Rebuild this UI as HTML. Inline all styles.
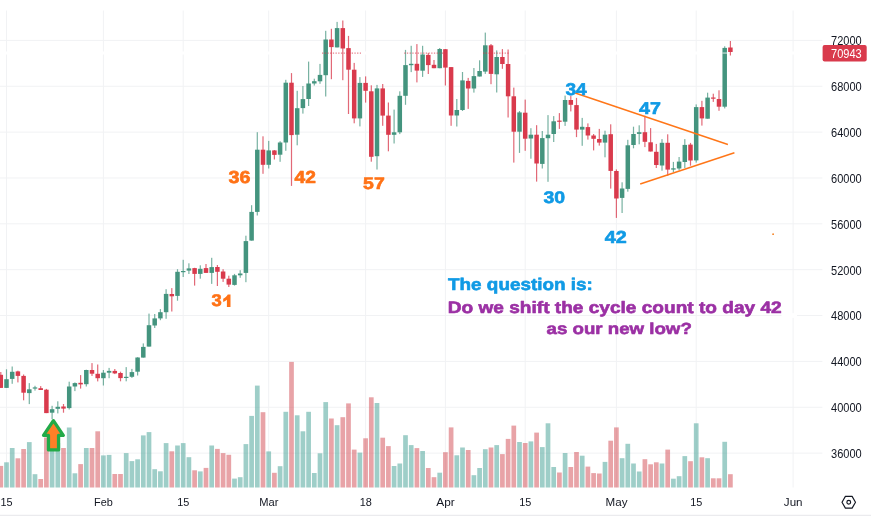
<!DOCTYPE html>
<html><head><meta charset="utf-8"><title>Chart</title>
<style>html,body{margin:0;padding:0;background:#fff;width:871px;height:517px;overflow:hidden;font-family:"Liberation Sans",sans-serif}</style>
</head><body>
<svg width="871" height="517" viewBox="0 0 871 517" style="display:block;position:absolute;left:0;top:0;will-change:transform">
<rect width="871" height="517" fill="#ffffff"/>
<g stroke="#f1f2f4" stroke-width="1"><line x1="0" y1="40.40" x2="822.4" y2="40.40"/><line x1="0" y1="86.26" x2="822.4" y2="86.26"/><line x1="0" y1="132.12" x2="822.4" y2="132.12"/><line x1="0" y1="177.98" x2="822.4" y2="177.98"/><line x1="0" y1="223.84" x2="822.4" y2="223.84"/><line x1="0" y1="269.70" x2="822.4" y2="269.70"/><line x1="0" y1="315.56" x2="822.4" y2="315.56"/><line x1="0" y1="361.42" x2="822.4" y2="361.42"/><line x1="0" y1="407.28" x2="822.4" y2="407.28"/><line x1="0" y1="453.14" x2="822.4" y2="453.14"/><line x1="6.50" y1="10.5" x2="6.50" y2="487.5"/><line x1="103.40" y1="10.5" x2="103.40" y2="487.5"/><line x1="183.20" y1="10.5" x2="183.20" y2="487.5"/><line x1="268.70" y1="10.5" x2="268.70" y2="487.5"/><line x1="365.60" y1="10.5" x2="365.60" y2="487.5"/><line x1="445.40" y1="10.5" x2="445.40" y2="487.5"/><line x1="525.20" y1="10.5" x2="525.20" y2="487.5"/><line x1="616.40" y1="10.5" x2="616.40" y2="487.5"/><line x1="696.20" y1="10.5" x2="696.20" y2="487.5"/><line x1="793.10" y1="10.5" x2="793.10" y2="487.5"/></g>
<line x1="0" y1="53" x2="822.4" y2="53" stroke="#ffffff" stroke-width="3"/>
<line x1="0" y1="515.3" x2="871" y2="515.3" stroke="#e6e7ea" stroke-width="1"/>
<g fill="rgba(62,158,146,0.5)"><rect x="4.15" y="462.3" width="4.7" height="25.2"/><rect x="9.85" y="448.0" width="4.7" height="39.5"/><rect x="26.95" y="442.1" width="4.7" height="45.4"/><rect x="32.65" y="474.2" width="4.7" height="13.3"/><rect x="49.75" y="441.0" width="4.7" height="46.5"/><rect x="55.45" y="443.0" width="4.7" height="44.5"/><rect x="66.85" y="427.5" width="4.7" height="60.0"/><rect x="72.55" y="473.3" width="4.7" height="14.2"/><rect x="83.95" y="448.0" width="4.7" height="39.5"/><rect x="101.05" y="455.4" width="4.7" height="32.1"/><rect x="106.75" y="454.9" width="4.7" height="32.6"/><rect x="123.85" y="453.1" width="4.7" height="34.4"/><rect x="129.55" y="461.1" width="4.7" height="26.4"/><rect x="135.25" y="459.3" width="4.7" height="28.2"/><rect x="140.95" y="435.4" width="4.7" height="52.1"/><rect x="146.65" y="432.1" width="4.7" height="55.4"/><rect x="152.35" y="469.2" width="4.7" height="18.3"/><rect x="158.05" y="471.3" width="4.7" height="16.2"/><rect x="163.75" y="443.1" width="4.7" height="44.4"/><rect x="175.15" y="445.5" width="4.7" height="42.0"/><rect x="180.85" y="443.1" width="4.7" height="44.4"/><rect x="186.55" y="457.2" width="4.7" height="30.3"/><rect x="197.95" y="471.4" width="4.7" height="16.1"/><rect x="209.35" y="445.5" width="4.7" height="42.0"/><rect x="232.15" y="478.6" width="4.7" height="8.9"/><rect x="237.85" y="477.2" width="4.7" height="10.3"/><rect x="243.55" y="444.1" width="4.7" height="43.4"/><rect x="249.25" y="415.9" width="4.7" height="71.6"/><rect x="254.95" y="385.6" width="4.7" height="101.9"/><rect x="266.35" y="451.4" width="4.7" height="36.1"/><rect x="277.75" y="466.2" width="4.7" height="21.3"/><rect x="283.45" y="411.8" width="4.7" height="75.7"/><rect x="294.85" y="415.3" width="4.7" height="72.2"/><rect x="300.55" y="431.3" width="4.7" height="56.2"/><rect x="306.25" y="411.8" width="4.7" height="75.7"/><rect x="311.95" y="473.0" width="4.7" height="14.5"/><rect x="317.65" y="453.3" width="4.7" height="34.2"/><rect x="323.35" y="402.1" width="4.7" height="85.4"/><rect x="334.75" y="425.2" width="4.7" height="62.3"/><rect x="357.55" y="452.6" width="4.7" height="34.9"/><rect x="374.65" y="403.0" width="4.7" height="84.5"/><rect x="391.75" y="466.0" width="4.7" height="21.5"/><rect x="397.45" y="463.5" width="4.7" height="24.0"/><rect x="403.15" y="435.2" width="4.7" height="52.3"/><rect x="408.85" y="445.1" width="4.7" height="42.4"/><rect x="420.25" y="451.0" width="4.7" height="36.5"/><rect x="437.35" y="472.7" width="4.7" height="14.8"/><rect x="454.45" y="455.3" width="4.7" height="32.2"/><rect x="460.15" y="447.5" width="4.7" height="40.0"/><rect x="471.55" y="475.2" width="4.7" height="12.3"/><rect x="477.25" y="468.0" width="4.7" height="19.5"/><rect x="482.95" y="449.2" width="4.7" height="38.3"/><rect x="494.35" y="445.1" width="4.7" height="42.4"/><rect x="517.15" y="442.0" width="4.7" height="45.5"/><rect x="528.55" y="441.4" width="4.7" height="46.1"/><rect x="539.95" y="447.1" width="4.7" height="40.4"/><rect x="545.65" y="423.3" width="4.7" height="64.2"/><rect x="551.35" y="467.0" width="4.7" height="20.5"/><rect x="562.75" y="453.0" width="4.7" height="34.5"/><rect x="579.85" y="455.7" width="4.7" height="31.8"/><rect x="602.65" y="461.9" width="4.7" height="25.6"/><rect x="619.75" y="458.2" width="4.7" height="29.3"/><rect x="625.45" y="443.8" width="4.7" height="43.7"/><rect x="631.15" y="463.5" width="4.7" height="24.0"/><rect x="636.85" y="471.5" width="4.7" height="16.0"/><rect x="659.65" y="463.5" width="4.7" height="24.0"/><rect x="671.05" y="478.7" width="4.7" height="8.8"/><rect x="676.75" y="476.2" width="4.7" height="11.3"/><rect x="682.45" y="456.1" width="4.7" height="31.4"/><rect x="693.85" y="423.3" width="4.7" height="64.2"/><rect x="705.25" y="458.2" width="4.7" height="29.3"/><rect x="722.35" y="441.8" width="4.7" height="45.7"/></g>
<g fill="rgba(209,72,80,0.5)"><rect x="-1.55" y="465.9" width="4.7" height="21.6"/><rect x="15.55" y="458.3" width="4.7" height="29.2"/><rect x="21.25" y="449.0" width="4.7" height="38.5"/><rect x="38.35" y="479.0" width="4.7" height="8.5"/><rect x="44.05" y="437.5" width="4.7" height="50.0"/><rect x="61.15" y="448.0" width="4.7" height="39.5"/><rect x="78.25" y="464.1" width="4.7" height="23.4"/><rect x="89.65" y="448.0" width="4.7" height="39.5"/><rect x="95.35" y="431.3" width="4.7" height="56.2"/><rect x="112.45" y="474.0" width="4.7" height="13.5"/><rect x="118.15" y="474.0" width="4.7" height="13.5"/><rect x="169.45" y="451.3" width="4.7" height="36.2"/><rect x="192.25" y="470.3" width="4.7" height="17.2"/><rect x="203.65" y="467.9" width="4.7" height="19.6"/><rect x="215.05" y="448.9" width="4.7" height="38.6"/><rect x="220.75" y="453.1" width="4.7" height="34.4"/><rect x="226.45" y="454.8" width="4.7" height="32.7"/><rect x="260.65" y="412.2" width="4.7" height="75.3"/><rect x="272.05" y="472.8" width="4.7" height="14.7"/><rect x="289.15" y="361.9" width="4.7" height="125.6"/><rect x="329.05" y="418.5" width="4.7" height="69.0"/><rect x="340.45" y="417.2" width="4.7" height="70.3"/><rect x="346.15" y="403.4" width="4.7" height="84.1"/><rect x="351.85" y="449.6" width="4.7" height="37.9"/><rect x="363.25" y="438.3" width="4.7" height="49.2"/><rect x="368.95" y="397.3" width="4.7" height="90.2"/><rect x="380.35" y="437.7" width="4.7" height="49.8"/><rect x="386.05" y="446.1" width="4.7" height="41.4"/><rect x="414.55" y="448.1" width="4.7" height="39.4"/><rect x="425.95" y="468.0" width="4.7" height="19.5"/><rect x="431.65" y="477.2" width="4.7" height="10.3"/><rect x="443.05" y="452.2" width="4.7" height="35.3"/><rect x="448.75" y="427.4" width="4.7" height="60.1"/><rect x="465.85" y="450.0" width="4.7" height="37.5"/><rect x="488.65" y="447.5" width="4.7" height="40.0"/><rect x="500.05" y="454.1" width="4.7" height="33.4"/><rect x="505.75" y="438.9" width="4.7" height="48.6"/><rect x="511.45" y="425.6" width="4.7" height="61.9"/><rect x="522.85" y="443.0" width="4.7" height="44.5"/><rect x="534.25" y="432.6" width="4.7" height="54.9"/><rect x="557.05" y="472.5" width="4.7" height="15.0"/><rect x="568.45" y="467.0" width="4.7" height="20.5"/><rect x="574.15" y="452.0" width="4.7" height="35.5"/><rect x="585.55" y="466.6" width="4.7" height="20.9"/><rect x="591.25" y="473.1" width="4.7" height="14.4"/><rect x="596.95" y="473.5" width="4.7" height="14.0"/><rect x="608.35" y="440.7" width="4.7" height="46.8"/><rect x="614.05" y="427.4" width="4.7" height="60.1"/><rect x="642.55" y="459.2" width="4.7" height="28.3"/><rect x="648.25" y="464.3" width="4.7" height="23.2"/><rect x="653.95" y="462.3" width="4.7" height="25.2"/><rect x="665.35" y="449.6" width="4.7" height="37.9"/><rect x="688.15" y="461.2" width="4.7" height="26.3"/><rect x="699.55" y="457.3" width="4.7" height="30.2"/><rect x="710.95" y="478.3" width="4.7" height="9.2"/><rect x="716.65" y="478.3" width="4.7" height="9.2"/><rect x="728.05" y="474.2" width="4.7" height="13.3"/></g>
<g fill="#44947e"><rect x="5.90" y="369.3" width="1.2" height="18.6" opacity="0.72"/><rect x="4.25" y="379.2" width="4.5" height="8.7"/><rect x="11.60" y="366.5" width="1.2" height="17.3" opacity="0.72"/><rect x="9.95" y="371.8" width="4.5" height="7.1"/><rect x="28.70" y="383.1" width="1.2" height="21.0" opacity="0.72"/><rect x="27.05" y="389.3" width="4.5" height="3.8"/><rect x="34.40" y="385.8" width="1.2" height="4.8" opacity="0.72"/><rect x="32.75" y="387.4" width="4.5" height="1.2"/><rect x="51.50" y="405.8" width="1.2" height="13.4" opacity="0.72"/><rect x="49.85" y="409.2" width="4.5" height="3.5"/><rect x="57.20" y="401.3" width="1.2" height="12.1" opacity="0.72"/><rect x="55.55" y="406.8" width="4.5" height="2.0"/><rect x="68.60" y="381.7" width="1.2" height="27.8" opacity="0.72"/><rect x="66.95" y="386.5" width="4.5" height="21.6"/><rect x="74.30" y="382.4" width="1.2" height="8.7" opacity="0.72"/><rect x="72.65" y="383.1" width="4.5" height="3.4"/><rect x="85.70" y="369.7" width="1.2" height="16.8" opacity="0.72"/><rect x="84.05" y="370.0" width="4.5" height="14.2"/><rect x="102.80" y="370.0" width="1.2" height="15.5" opacity="0.72"/><rect x="101.15" y="372.7" width="4.5" height="5.5"/><rect x="108.50" y="367.9" width="1.2" height="10.3" opacity="0.72"/><rect x="106.85" y="370.9" width="4.5" height="1.8"/><rect x="125.60" y="367.1" width="1.2" height="14.2" opacity="0.72"/><rect x="123.95" y="376.8" width="4.5" height="1.2"/><rect x="131.30" y="368.9" width="1.2" height="9.0" opacity="0.72"/><rect x="129.65" y="372.1" width="4.5" height="4.7"/><rect x="137.00" y="357.2" width="1.2" height="18.3" opacity="0.72"/><rect x="135.35" y="357.5" width="4.5" height="14.2"/><rect x="142.70" y="343.4" width="1.2" height="14.2" opacity="0.72"/><rect x="141.05" y="346.9" width="4.5" height="10.7"/><rect x="148.40" y="313.6" width="1.2" height="33.0" opacity="0.72"/><rect x="146.75" y="325.2" width="4.5" height="21.4"/><rect x="154.10" y="314.0" width="1.2" height="14.0" opacity="0.72"/><rect x="152.45" y="318.4" width="4.5" height="7.1"/><rect x="159.80" y="309.1" width="1.2" height="11.1" opacity="0.72"/><rect x="158.15" y="312.2" width="4.5" height="6.2"/><rect x="165.50" y="289.2" width="1.2" height="29.6" opacity="0.72"/><rect x="163.85" y="293.9" width="4.5" height="18.3"/><rect x="176.90" y="269.2" width="1.2" height="31.5" opacity="0.72"/><rect x="175.25" y="271.8" width="4.5" height="24.1"/><rect x="182.60" y="259.8" width="1.2" height="17.2" opacity="0.72"/><rect x="180.95" y="271.0" width="4.5" height="1.2"/><rect x="188.30" y="263.3" width="1.2" height="10.7" opacity="0.72"/><rect x="186.65" y="268.4" width="4.5" height="2.2"/><rect x="199.70" y="265.3" width="1.2" height="13.4" opacity="0.72"/><rect x="198.05" y="268.8" width="4.5" height="5.1"/><rect x="211.10" y="257.8" width="1.2" height="26.1" opacity="0.72"/><rect x="209.45" y="267.1" width="4.5" height="5.8"/><rect x="233.90" y="273.9" width="1.2" height="11.7" opacity="0.72"/><rect x="232.25" y="275.3" width="4.5" height="9.6"/><rect x="239.60" y="270.2" width="1.2" height="7.6" opacity="0.72"/><rect x="237.95" y="273.5" width="4.5" height="1.8"/><rect x="245.30" y="235.7" width="1.2" height="46.5" opacity="0.72"/><rect x="243.65" y="241.1" width="4.5" height="31.8"/><rect x="251.00" y="205.2" width="1.2" height="35.4" opacity="0.72"/><rect x="249.35" y="211.9" width="4.5" height="28.7"/><rect x="256.70" y="132.2" width="1.2" height="83.3" opacity="0.72"/><rect x="255.05" y="149.7" width="4.5" height="62.2"/><rect x="268.10" y="140.9" width="1.2" height="27.6" opacity="0.72"/><rect x="266.45" y="150.4" width="4.5" height="14.4"/><rect x="279.50" y="141.2" width="1.2" height="20.6" opacity="0.72"/><rect x="277.85" y="142.5" width="4.5" height="12.2"/><rect x="285.20" y="79.8" width="1.2" height="71.0" opacity="0.72"/><rect x="283.55" y="82.7" width="4.5" height="59.8"/><rect x="296.60" y="90.8" width="1.2" height="54.5" opacity="0.72"/><rect x="294.95" y="108.2" width="4.5" height="26.5"/><rect x="302.30" y="86.0" width="1.2" height="27.6" opacity="0.72"/><rect x="300.65" y="99.1" width="4.5" height="9.0"/><rect x="308.00" y="61.6" width="1.2" height="44.4" opacity="0.72"/><rect x="306.35" y="83.5" width="4.5" height="15.5"/><rect x="313.70" y="78.7" width="1.2" height="6.8" opacity="0.72"/><rect x="312.05" y="81.2" width="4.5" height="2.3"/><rect x="319.40" y="63.9" width="1.2" height="19.9" opacity="0.72"/><rect x="317.75" y="74.9" width="4.5" height="6.4"/><rect x="325.10" y="30.8" width="1.2" height="65.7" opacity="0.72"/><rect x="323.45" y="39.5" width="4.5" height="35.7"/><rect x="336.50" y="21.9" width="1.2" height="25.5" opacity="0.72"/><rect x="334.85" y="28.1" width="4.5" height="19.3"/><rect x="359.30" y="77.1" width="1.2" height="49.3" opacity="0.72"/><rect x="357.65" y="82.9" width="4.5" height="35.5"/><rect x="376.40" y="84.9" width="1.2" height="84.6" opacity="0.72"/><rect x="374.75" y="88.4" width="4.5" height="67.8"/><rect x="393.50" y="109.6" width="1.2" height="33.9" opacity="0.72"/><rect x="391.85" y="132.3" width="4.5" height="2.5"/><rect x="399.20" y="91.3" width="1.2" height="42.8" opacity="0.72"/><rect x="397.55" y="95.8" width="4.5" height="36.5"/><rect x="404.90" y="49.9" width="1.2" height="54.9" opacity="0.72"/><rect x="403.25" y="65.1" width="4.5" height="30.7"/><rect x="410.60" y="45.8" width="1.2" height="26.3" opacity="0.72"/><rect x="408.95" y="63.8" width="4.5" height="1.4"/><rect x="422.00" y="45.8" width="1.2" height="31.1" opacity="0.72"/><rect x="420.35" y="54.5" width="4.5" height="16.2"/><rect x="439.10" y="48.0" width="1.2" height="20.2" opacity="0.72"/><rect x="437.45" y="49.0" width="4.5" height="19.2"/><rect x="456.20" y="99.0" width="1.2" height="27.5" opacity="0.72"/><rect x="454.55" y="110.0" width="4.5" height="5.5"/><rect x="461.90" y="72.0" width="1.2" height="39.0" opacity="0.72"/><rect x="460.25" y="80.4" width="4.5" height="29.6"/><rect x="473.30" y="68.0" width="1.2" height="24.6" opacity="0.72"/><rect x="471.65" y="76.1" width="4.5" height="12.4"/><rect x="479.00" y="60.3" width="1.2" height="16.2" opacity="0.72"/><rect x="477.35" y="71.0" width="4.5" height="5.5"/><rect x="484.70" y="32.6" width="1.2" height="41.3" opacity="0.72"/><rect x="483.05" y="45.3" width="4.5" height="26.3"/><rect x="496.10" y="50.4" width="1.2" height="42.1" opacity="0.72"/><rect x="494.45" y="57.0" width="4.5" height="17.3"/><rect x="518.90" y="111.0" width="1.2" height="41.9" opacity="0.72"/><rect x="517.25" y="112.4" width="4.5" height="19.3"/><rect x="530.30" y="128.2" width="1.2" height="30.5" opacity="0.72"/><rect x="528.65" y="134.7" width="4.5" height="3.8"/><rect x="541.70" y="131.0" width="1.2" height="37.5" opacity="0.72"/><rect x="540.05" y="138.1" width="4.5" height="25.8"/><rect x="547.40" y="115.1" width="1.2" height="66.7" opacity="0.72"/><rect x="545.75" y="134.7" width="4.5" height="3.5"/><rect x="553.10" y="116.1" width="1.2" height="25.9" opacity="0.72"/><rect x="551.45" y="121.3" width="4.5" height="12.7"/><rect x="564.50" y="95.6" width="1.2" height="30.3" opacity="0.72"/><rect x="562.85" y="100.0" width="4.5" height="21.7"/><rect x="581.60" y="117.9" width="1.2" height="27.9" opacity="0.72"/><rect x="579.95" y="126.8" width="4.5" height="2.8"/><rect x="604.40" y="130.7" width="1.2" height="26.6" opacity="0.72"/><rect x="602.75" y="134.7" width="4.5" height="7.9"/><rect x="621.50" y="182.3" width="1.2" height="30.7" opacity="0.72"/><rect x="619.85" y="188.5" width="4.5" height="9.4"/><rect x="627.20" y="139.8" width="1.2" height="51.9" opacity="0.72"/><rect x="625.55" y="145.3" width="4.5" height="43.6"/><rect x="632.90" y="126.7" width="1.2" height="21.6" opacity="0.72"/><rect x="631.25" y="134.0" width="4.5" height="11.0"/><rect x="638.60" y="125.3" width="1.2" height="19.0" opacity="0.72"/><rect x="636.95" y="132.2" width="4.5" height="1.7"/><rect x="661.40" y="139.1" width="1.2" height="31.6" opacity="0.72"/><rect x="659.75" y="142.8" width="4.5" height="22.7"/><rect x="672.80" y="161.9" width="1.2" height="10.2" opacity="0.72"/><rect x="671.15" y="168.3" width="4.5" height="1.3"/><rect x="678.50" y="157.0" width="1.2" height="13.3" opacity="0.72"/><rect x="676.85" y="161.6" width="4.5" height="6.9"/><rect x="684.20" y="139.1" width="1.2" height="28.9" opacity="0.72"/><rect x="682.55" y="144.9" width="4.5" height="17.1"/><rect x="695.60" y="104.4" width="1.2" height="58.2" opacity="0.72"/><rect x="693.95" y="107.1" width="4.5" height="53.3"/><rect x="707.00" y="92.7" width="1.2" height="26.0" opacity="0.72"/><rect x="705.35" y="97.6" width="4.5" height="21.1"/><rect x="724.10" y="46.3" width="1.2" height="62.1" opacity="0.72"/><rect x="722.45" y="47.9" width="4.5" height="58.8"/></g>
<g fill="#d93a4c"><rect x="0.20" y="372.0" width="1.2" height="15.9" opacity="0.76"/><rect x="-1.45" y="374.8" width="4.5" height="13.1"/><rect x="17.30" y="370.7" width="1.2" height="11.7" opacity="0.76"/><rect x="15.65" y="371.4" width="4.5" height="4.5"/><rect x="23.00" y="374.5" width="1.2" height="25.8" opacity="0.76"/><rect x="21.35" y="375.9" width="4.5" height="16.8"/><rect x="40.10" y="386.1" width="1.2" height="3.9" opacity="0.76"/><rect x="38.45" y="388.2" width="4.5" height="1.8"/><rect x="45.80" y="388.9" width="1.2" height="24.2" opacity="0.76"/><rect x="44.15" y="389.7" width="4.5" height="23.4"/><rect x="62.90" y="404.0" width="1.2" height="8.7" opacity="0.76"/><rect x="61.25" y="406.5" width="4.5" height="2.1"/><rect x="80.00" y="375.1" width="1.2" height="13.5" opacity="0.76"/><rect x="78.35" y="382.8" width="4.5" height="1.6"/><rect x="91.40" y="363.1" width="1.2" height="12.8" opacity="0.76"/><rect x="89.75" y="370.0" width="4.5" height="3.7"/><rect x="97.10" y="364.5" width="1.2" height="16.9" opacity="0.76"/><rect x="95.45" y="373.8" width="4.5" height="4.4"/><rect x="114.20" y="369.0" width="1.2" height="5.1" opacity="0.76"/><rect x="112.55" y="370.9" width="4.5" height="2.5"/><rect x="119.90" y="371.7" width="1.2" height="9.6" opacity="0.76"/><rect x="118.25" y="373.0" width="4.5" height="5.1"/><rect x="171.20" y="288.1" width="1.2" height="23.4" opacity="0.76"/><rect x="169.55" y="294.0" width="4.5" height="2.3"/><rect x="194.00" y="267.8" width="1.2" height="17.8" opacity="0.76"/><rect x="192.35" y="268.1" width="4.5" height="5.8"/><rect x="205.40" y="264.0" width="1.2" height="8.9" opacity="0.76"/><rect x="203.75" y="268.1" width="4.5" height="4.8"/><rect x="216.80" y="265.0" width="1.2" height="21.0" opacity="0.76"/><rect x="215.15" y="267.0" width="4.5" height="4.8"/><rect x="222.50" y="269.2" width="1.2" height="12.7" opacity="0.76"/><rect x="220.85" y="271.5" width="4.5" height="7.2"/><rect x="228.20" y="275.7" width="1.2" height="11.3" opacity="0.76"/><rect x="226.55" y="278.7" width="4.5" height="5.9"/><rect x="262.40" y="136.3" width="1.2" height="37.5" opacity="0.76"/><rect x="260.75" y="149.7" width="4.5" height="15.1"/><rect x="273.80" y="150.0" width="1.2" height="9.5" opacity="0.76"/><rect x="272.15" y="150.4" width="4.5" height="4.5"/><rect x="290.90" y="73.1" width="1.2" height="112.8" opacity="0.76"/><rect x="289.25" y="82.7" width="4.5" height="52.4"/><rect x="330.80" y="28.8" width="1.2" height="50.4" opacity="0.76"/><rect x="329.15" y="39.5" width="4.5" height="7.6"/><rect x="342.20" y="20.5" width="1.2" height="59.7" opacity="0.76"/><rect x="340.55" y="28.1" width="4.5" height="20.4"/><rect x="347.90" y="35.9" width="1.2" height="78.1" opacity="0.76"/><rect x="346.25" y="48.1" width="4.5" height="21.6"/><rect x="353.60" y="62.9" width="1.2" height="60.4" opacity="0.76"/><rect x="351.95" y="69.7" width="4.5" height="48.7"/><rect x="365.00" y="76.4" width="1.2" height="26.2" opacity="0.76"/><rect x="363.35" y="82.9" width="4.5" height="7.9"/><rect x="370.70" y="85.3" width="1.2" height="76.4" opacity="0.76"/><rect x="369.05" y="91.3" width="4.5" height="65.5"/><rect x="382.10" y="84.0" width="1.2" height="41.8" opacity="0.76"/><rect x="380.45" y="88.4" width="4.5" height="27.2"/><rect x="387.80" y="102.5" width="1.2" height="48.8" opacity="0.76"/><rect x="386.15" y="115.6" width="4.5" height="19.2"/><rect x="416.30" y="44.1" width="1.2" height="38.3" opacity="0.76"/><rect x="414.65" y="63.8" width="4.5" height="6.8"/><rect x="427.70" y="53.1" width="1.2" height="20.9" opacity="0.76"/><rect x="426.05" y="54.9" width="4.5" height="10.2"/><rect x="433.40" y="60.0" width="1.2" height="8.2" opacity="0.76"/><rect x="431.75" y="64.8" width="4.5" height="3.4"/><rect x="444.80" y="49.0" width="1.2" height="36.5" opacity="0.76"/><rect x="443.15" y="49.2" width="4.5" height="18.4"/><rect x="450.50" y="67.1" width="1.2" height="58.7" opacity="0.76"/><rect x="448.85" y="67.1" width="4.5" height="48.4"/><rect x="467.60" y="77.9" width="1.2" height="31.0" opacity="0.76"/><rect x="465.95" y="80.9" width="4.5" height="7.6"/><rect x="490.40" y="44.0" width="1.2" height="40.2" opacity="0.76"/><rect x="488.75" y="45.3" width="4.5" height="28.6"/><rect x="501.80" y="49.1" width="1.2" height="19.7" opacity="0.76"/><rect x="500.15" y="57.0" width="4.5" height="7.0"/><rect x="507.50" y="49.5" width="1.2" height="68.0" opacity="0.76"/><rect x="505.85" y="64.0" width="4.5" height="32.3"/><rect x="513.20" y="87.6" width="1.2" height="75.0" opacity="0.76"/><rect x="511.55" y="96.3" width="4.5" height="35.4"/><rect x="524.60" y="99.6" width="1.2" height="51.2" opacity="0.76"/><rect x="522.95" y="112.7" width="4.5" height="26.0"/><rect x="536.00" y="125.2" width="1.2" height="56.4" opacity="0.76"/><rect x="534.35" y="134.7" width="4.5" height="28.8"/><rect x="558.80" y="113.1" width="1.2" height="15.8" opacity="0.76"/><rect x="557.15" y="120.6" width="4.5" height="1.2"/><rect x="570.20" y="95.8" width="1.2" height="15.6" opacity="0.76"/><rect x="568.55" y="100.0" width="4.5" height="4.8"/><rect x="575.90" y="97.9" width="1.2" height="39.2" opacity="0.76"/><rect x="574.25" y="105.1" width="4.5" height="24.5"/><rect x="587.30" y="123.4" width="1.2" height="16.2" opacity="0.76"/><rect x="585.65" y="127.1" width="4.5" height="8.4"/><rect x="593.00" y="134.0" width="1.2" height="16.4" opacity="0.76"/><rect x="591.35" y="135.5" width="4.5" height="3.3"/><rect x="598.70" y="128.9" width="1.2" height="16.7" opacity="0.76"/><rect x="597.05" y="139.0" width="4.5" height="3.6"/><rect x="610.10" y="124.3" width="1.2" height="64.3" opacity="0.76"/><rect x="608.45" y="134.2" width="4.5" height="36.7"/><rect x="615.80" y="169.4" width="1.2" height="48.5" opacity="0.76"/><rect x="614.15" y="171.0" width="4.5" height="27.5"/><rect x="644.30" y="115.7" width="1.2" height="31.4" opacity="0.76"/><rect x="642.65" y="132.2" width="4.5" height="9.6"/><rect x="650.00" y="128.1" width="1.2" height="23.4" opacity="0.76"/><rect x="648.35" y="142.3" width="4.5" height="9.2"/><rect x="655.70" y="143.9" width="1.2" height="24.1" opacity="0.76"/><rect x="654.05" y="151.8" width="4.5" height="13.2"/><rect x="667.10" y="134.3" width="1.2" height="41.5" opacity="0.76"/><rect x="665.45" y="142.8" width="4.5" height="26.8"/><rect x="689.90" y="142.9" width="1.2" height="22.8" opacity="0.76"/><rect x="688.25" y="144.6" width="4.5" height="15.9"/><rect x="701.30" y="100.8" width="1.2" height="24.8" opacity="0.76"/><rect x="699.65" y="107.1" width="4.5" height="11.3"/><rect x="712.70" y="93.7" width="1.2" height="8.2" opacity="0.76"/><rect x="711.05" y="97.5" width="4.5" height="1.2"/><rect x="718.40" y="90.3" width="1.2" height="20.5" opacity="0.76"/><rect x="716.75" y="99.0" width="4.5" height="7.7"/><rect x="729.80" y="41.0" width="1.2" height="14.5" opacity="0.76"/><rect x="728.15" y="47.5" width="4.5" height="4.5"/></g>
<rect x="722.4" y="52.3" width="5" height="1.5" fill="#ffffff" opacity="0.55"/>
<g stroke="#ff7618" stroke-width="1.45" stroke-linecap="butt"><line x1="575.2" y1="93.0" x2="727.9" y2="144.5"/><line x1="640.2" y1="184.0" x2="734.4" y2="152.7"/></g>
<circle cx="773.1" cy="234.2" r="0.9" fill="#f5801f"/>
<line x1="322" y1="53.1" x2="361" y2="53.1" stroke="#d93a4c" stroke-width="1" stroke-dasharray="1.3 1.4" opacity="0.8"/>
<line x1="404.2" y1="53.1" x2="443.5" y2="53.1" stroke="#d93a4c" stroke-width="1" stroke-dasharray="1.3 1.4" opacity="0.8"/>
<line x1="483" y1="53.1" x2="509" y2="53.1" stroke="#d93a4c" stroke-width="1" stroke-dasharray="1.3 1.4" opacity="0.8"/>
<path d="M53.4 420.7 L63.3 435.35 L58.55 435.35 L58.55 449.95 L48.45 449.95 L48.45 435.35 L43.5 435.35 Z" fill="#ff7f27" stroke="#22aa48" stroke-width="3.3" stroke-linejoin="round"/>
<g font-family="Liberation Sans, sans-serif">
<path d="M230.5 307 L226.9 307 L226.9 299.7 C225.8 300.7 224.6 301.4 223.2 301.9 L223.2 298.7 C224.9 298 226.9 296.5 227.8 294.6 L230.5 294.6 Z" fill="#ff7216"/>
<rect x="781.5" y="313.2" width="15.5" height="4.6" fill="#fff"/>
<text transform="translate(228.46 182.77) scale(1.1750 1.0294)" fill="#ff7216" stroke="#ff7216" stroke-width="0.62" stroke-linejoin="round" font-size="16.8" font-weight="bold" text-rendering="geometricPrecision">36</text>
<text transform="translate(294.45 183.02) scale(1.1439 1.0379)" fill="#ff7216" stroke="#ff7216" stroke-width="0.62" stroke-linejoin="round" font-size="16.8" font-weight="bold" text-rendering="geometricPrecision">42</text>
<text transform="translate(363.08 189.21) scale(1.1592 1.0005)" fill="#ff7216" stroke="#ff7216" stroke-width="0.62" stroke-linejoin="round" font-size="16.8" font-weight="bold" text-rendering="geometricPrecision">57</text>
<text transform="translate(211.52 306.12) scale(1.0986 1.0069)" fill="#ff7216" stroke="#ff7216" stroke-width="0.62" stroke-linejoin="round" font-size="16.8" font-weight="bold" text-rendering="geometricPrecision">3</text>
<text transform="translate(565.42 94.77) scale(1.1382 1.0107)" fill="#109ae5" stroke="#109ae5" stroke-width="0.62" stroke-linejoin="round" font-size="16.8" font-weight="bold" text-rendering="geometricPrecision">34</text>
<text transform="translate(638.99 114.35) scale(1.1709 1.0110)" fill="#109ae5" stroke="#109ae5" stroke-width="0.62" stroke-linejoin="round" font-size="16.8" font-weight="bold" text-rendering="geometricPrecision">47</text>
<text transform="translate(543.55 203.30) scale(1.1586 1.0001)" fill="#109ae5" stroke="#109ae5" stroke-width="0.62" stroke-linejoin="round" font-size="16.8" font-weight="bold" text-rendering="geometricPrecision">30</text>
<text transform="translate(604.86 242.93) scale(1.1756 1.0307)" fill="#109ae5" stroke="#109ae5" stroke-width="0.62" stroke-linejoin="round" font-size="16.8" font-weight="bold" text-rendering="geometricPrecision">42</text>
<text transform="translate(448.07 289.57) scale(1.1243 1.0037)" fill="#109ae5" stroke="#109ae5" stroke-width="0.62" stroke-linejoin="round" font-size="16.8" font-weight="bold" text-rendering="geometricPrecision">The question is:</text>
<text transform="translate(447.81 312.96) scale(1.1364 0.9835)" fill="#9b30a4" stroke="#9b30a4" stroke-width="0.62" stroke-linejoin="round" font-size="16.8" font-weight="bold" text-rendering="geometricPrecision">Do we shift the cycle count to day 42</text>
<text transform="translate(546.51 333.55) scale(1.1131 0.9502)" fill="#9b30a4" stroke="#9b30a4" stroke-width="0.62" stroke-linejoin="round" font-size="16.8" font-weight="bold" text-rendering="geometricPrecision">as our new low?</text>
</g>
<g font-family="Liberation Sans, sans-serif" font-size="12.2" fill="#131722">
<text transform="translate(831.0 45.20) scale(0.905 1)">72000</text>
<text transform="translate(831.0 91.06) scale(0.905 1)">68000</text>
<text transform="translate(831.0 136.92) scale(0.905 1)">64000</text>
<text transform="translate(831.0 182.78) scale(0.905 1)">60000</text>
<text transform="translate(831.0 228.64) scale(0.905 1)">56000</text>
<text transform="translate(831.0 274.50) scale(0.905 1)">52000</text>
<text transform="translate(831.0 320.36) scale(0.905 1)">48000</text>
<text transform="translate(831.0 366.22) scale(0.905 1)">44000</text>
<text transform="translate(831.0 412.08) scale(0.905 1)">40000</text>
<text transform="translate(831.0 457.94) scale(0.905 1)">36000</text>
<text transform="translate(6.60 506.0) scale(0.94 1)" text-anchor="middle" font-size="11.6">15</text>
<text transform="translate(103.50 506.0) scale(0.94 1)" text-anchor="middle" font-size="11.6">Feb</text>
<text transform="translate(183.30 506.0) scale(0.94 1)" text-anchor="middle" font-size="11.6">15</text>
<text transform="translate(268.80 506.0) scale(0.96 1)" text-anchor="middle" font-size="11.6">Mar</text>
<text transform="translate(365.70 506.0) scale(0.94 1)" text-anchor="middle" font-size="11.6">18</text>
<text transform="translate(445.50 506.0) scale(1.02 1)" text-anchor="middle" font-size="11.6">Apr</text>
<text transform="translate(525.30 506.0) scale(0.94 1)" text-anchor="middle" font-size="11.6">15</text>
<text transform="translate(616.50 506.0) scale(1.0 1)" text-anchor="middle" font-size="11.6">May</text>
<text transform="translate(696.30 506.0) scale(0.94 1)" text-anchor="middle" font-size="11.6">15</text>
<text transform="translate(793.20 506.0) scale(1.0 1)" text-anchor="middle" font-size="11.6">Jun</text>
</g>
<rect x="822.6" y="44.9" width="44.1" height="16.7" rx="2" fill="#d93a4c"/>
<text transform="translate(831.0 57.85) scale(0.905 1)" font-family="Liberation Sans, sans-serif" font-size="12.2" fill="#ffffff">70943</text>
<polygon points="855.5,502.2 852.1,508.1 845.4,508.1 842.0,502.2 845.4,496.4 852.1,496.4" fill="none" stroke="#131722" stroke-width="1.15" stroke-linejoin="round"/>
<circle cx="848.75" cy="502.25" r="1.9" fill="none" stroke="#131722" stroke-width="1.15"/>
</svg>
</body></html>
